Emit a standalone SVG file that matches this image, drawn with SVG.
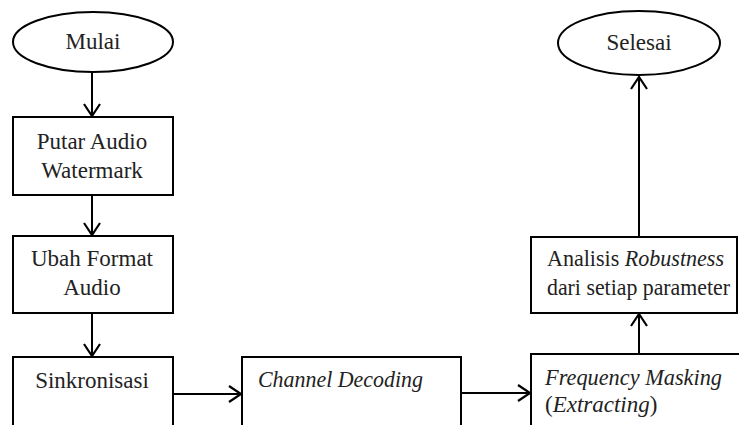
<svg xmlns="http://www.w3.org/2000/svg" width="739" height="425" viewBox="0 0 739 425">
<style>
.s{fill:#fff;stroke:#000;stroke-width:2}
.t{font-family:"Liberation Serif","Times New Roman",serif;font-size:23px;fill:#222}
.c{text-anchor:middle}
.i{font-style:italic}
.l{fill:none;stroke:#000;stroke-width:2}
</style>
<defs>
<marker id="a" markerUnits="userSpaceOnUse" markerWidth="20" markerHeight="20" viewBox="-14 -10 16 20" refX="0" refY="0" orient="auto">
<path d="M-12,-8 L0,0 L-12,8" fill="none" stroke="#000" stroke-width="2.2"/>
</marker>
</defs>
<rect width="739" height="425" fill="#fff"/>
<g id="connectors">
<line class="l" x1="92" y1="73" x2="92" y2="116" marker-end="url(#a)"/>
<line class="l" x1="92" y1="195" x2="92" y2="235" marker-end="url(#a)"/>
<line class="l" x1="92" y1="313" x2="92" y2="356" marker-end="url(#a)"/>
<line class="l" x1="173" y1="394" x2="241" y2="394" marker-end="url(#a)"/>
<line class="l" x1="461" y1="393" x2="530" y2="393" marker-end="url(#a)"/>
<line class="l" x1="639" y1="354" x2="639" y2="314" marker-end="url(#a)"/>
<line class="l" x1="639" y1="237" x2="639" y2="77" marker-end="url(#a)"/>
</g>
<g id="mulai">
<ellipse class="s" cx="93" cy="42" rx="80" ry="30"/>
<text class="t c" x="93" y="49">Mulai</text>
</g>
<g id="putar">
<rect class="s" x="13" y="117" width="160" height="78"/>
<text class="t c" x="92" y="149">Putar Audio</text>
<text class="t c" x="92" y="178">Watermark</text>
</g>
<g id="ubah">
<rect class="s" x="13" y="236" width="160" height="77"/>
<text class="t c" x="92" y="266">Ubah Format</text>
<text class="t c" x="92" y="295">Audio</text>
</g>
<g id="sinkronisasi">
<rect class="s" x="13" y="357" width="160" height="80"/>
<text class="t c" x="92" y="388">Sinkronisasi</text>
</g>
<g id="channel">
<rect class="s" x="242" y="357" width="219" height="80"/>
<text class="t i" x="258" y="387" textLength="165" lengthAdjust="spacingAndGlyphs">Channel Decoding</text>
</g>
<g id="frequency">
<rect class="s" x="531" y="354" width="220" height="80"/>
<text class="t i" x="545" y="385" textLength="177" lengthAdjust="spacingAndGlyphs">Frequency Masking</text>
<text class="t" x="545" y="412">(<tspan class="i">Extracting</tspan>)</text>
</g>
<g id="analisis">
<rect class="s" x="531" y="237" width="206" height="76"/>
<text class="t" x="547" y="266" textLength="177" lengthAdjust="spacingAndGlyphs">Analisis <tspan class="i">Robustness</tspan></text>
<text class="t" x="547" y="295" textLength="183" lengthAdjust="spacingAndGlyphs">dari setiap parameter</text>
</g>
<g id="selesai">
<ellipse class="s" cx="639" cy="43" rx="81" ry="32"/>
<text class="t c" x="639" y="50">Selesai</text>
</g>
</svg>
